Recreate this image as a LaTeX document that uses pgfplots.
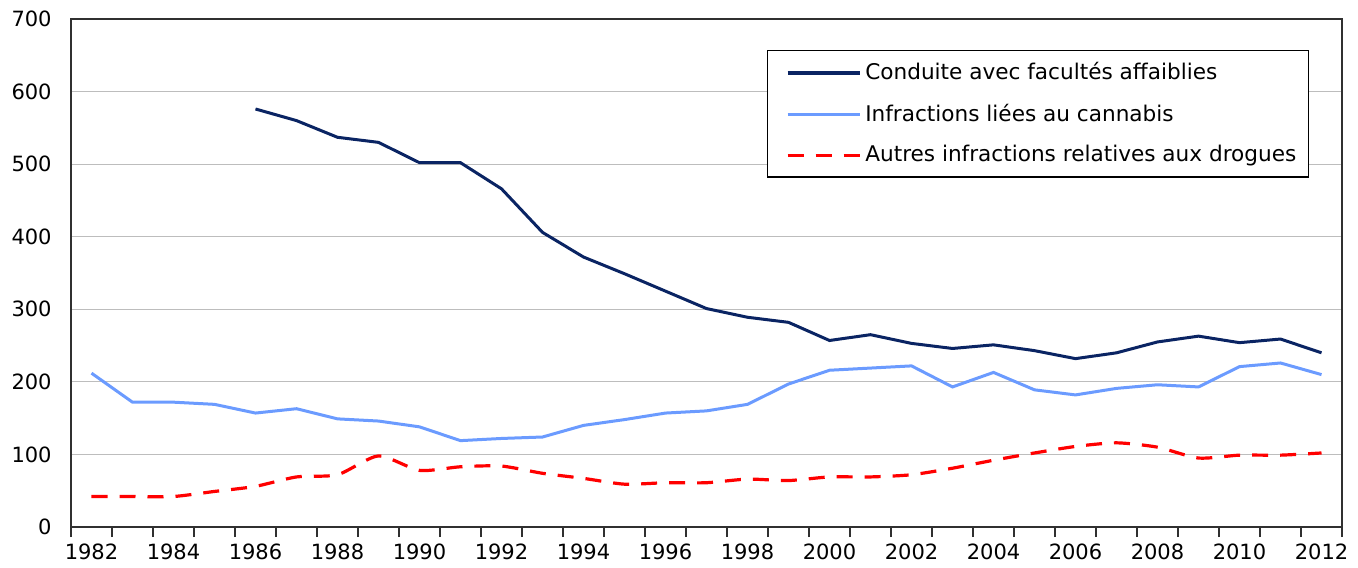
\documentclass[border=0pt]{standalone}
\usepackage{fontspec}
\setmainfont{DejaVu Sans}
\usepackage{pgfplots}
\pgfplotsset{compat=1.18}
\definecolor{navy}{HTML}{0A2463}
\definecolor{lblue}{HTML}{6B9BFF}
\definecolor{gridc}{HTML}{BDBDBD}
\definecolor{axc}{HTML}{303030}
\begin{document}
\fontsize{10.5}{12.6}\selectfont
\begin{tikzpicture}
\begin{axis}[
  scale only axis,
  width=635.5pt, height=254pt,
  xmin=1981.5, xmax=2012.5,
  ymin=0, ymax=700,
  xtick={1982,1984,...,2012},
  minor xtick={1981.5,1982.5,...,2012.5},
  ytick={0,100,...,700},
  tick pos=left,
  x tick label style={/pgf/number format/1000 sep={}},
  /pgf/number format/assume math mode=true,
  xticklabel style={yshift=-5pt},
  yticklabel style={xshift=-6pt},
  major x tick style={draw=none},
  minor x tick style={draw=axc, line width=0.8pt},
  tick align=outside,
  minor tick length=5pt,
  major tick length=0pt,
  ymajorgrids=true,
  major grid style={draw=gridc, line width=0.6pt},
  axis line style={draw=axc, line width=1pt},
  legend cell align=left,
  legend style={at={(0.5476,0.939)}, anchor=north west, draw=black, line width=0.7pt,
    inner xsep=4pt, inner ysep=4pt, row sep=6.5pt, font=\fontsize{10.8}{13}\selectfont,
    /tikz/every even column/.append style={column sep=0pt}},
  legend image code/.code={\path[draw=none,fill=none] (0pt,0pt) -- (4pt,0pt); \draw[#1, line width=1.6pt] (6pt,0pt) -- (42pt,0pt);},
]
\addplot[navy, line width=1.5pt] coordinates {
(1986,576) (1987,560) (1988,537) (1989,530) (1990,502) (1991,502) (1992,466)
(1993,406) (1994,372) (1995,349) (1996,325) (1997,301) (1998,289) (1999,282)
(2000,257) (2001,265) (2002,253) (2003,246) (2004,251) (2005,243) (2006,232)
(2007,240) (2008,255) (2009,263) (2010,254) (2011,259) (2012,240)};
\addlegendentry{Conduite avec facultés affaiblies}
\addplot[lblue, line width=1.5pt] coordinates {
(1982,212) (1983,172) (1984,172) (1985,169) (1986,157) (1987,163) (1988,149)
(1989,146) (1990,138) (1991,119) (1992,122) (1993,124) (1994,140) (1995,148)
(1996,157) (1997,160) (1998,169) (1999,197) (2000,216) (2001,219) (2002,222)
(2003,193) (2004,213) (2005,189) (2006,182) (2007,191) (2008,196) (2009,193)
(2010,221) (2011,226) (2012,210)};
\addlegendentry{Infractions liées au cannabis}
\addplot[red, line width=1.6pt, dash pattern=on 8pt off 6pt, smooth, tension=0.4] coordinates {
(1982,42) (1983,42) (1984,42) (1985,49) (1986,56) (1987,69) (1988,72)
(1989,98) (1990,78) (1991,83) (1992,84) (1993,74) (1994,67) (1995,59)
(1996,61) (1997,61) (1998,66) (1999,64) (2000,69) (2001,69) (2002,72)
(2003,81) (2004,92) (2005,102) (2006,111) (2007,116) (2008,110) (2009,95)
(2010,99) (2011,99) (2012,102)};
\addlegendentry{Autres infractions relatives aux drogues}
\draw[axc, line width=1pt] (rel axis cs:0,1) -- (rel axis cs:1,1) -- (rel axis cs:1,0);
\end{axis}
\pgfresetboundingbox
\path[use as bounding box] (-35.5pt,-20pt) rectangle (643.5pt,263.5pt);
\end{tikzpicture}
\end{document}
